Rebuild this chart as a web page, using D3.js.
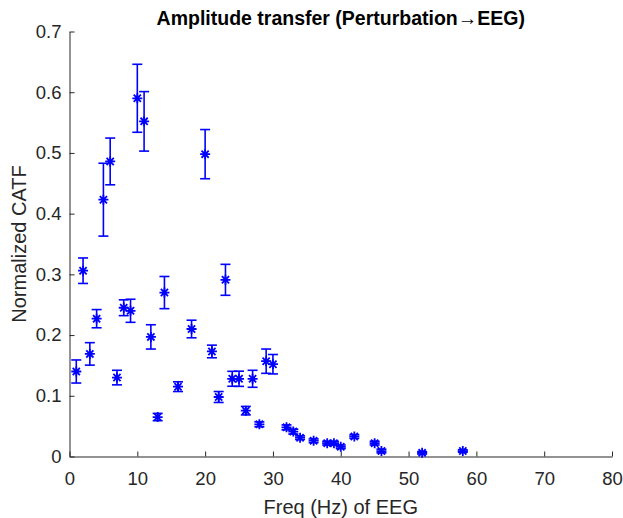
<!DOCTYPE html>
<html>
<head>
<meta charset="utf-8">
<script src="https://cdn.jsdelivr.net/npm/d3@7"></script>
<style>
  body { margin: 0; background: #fff; }
  svg text { font-family: "Liberation Sans", Arial, sans-serif; }
</style>
</head>
<body>
<div id="chart"></div>
<script>
// frequencies (Hz) of EEG
const freqs = [1, 2, 3, 4, 5, 6, 7, 8, 9, 10, 11, 12, 13, 14, 16, 18, 20, 21, 22, 23,
    24, 25, 26, 27, 28, 29, 30, 32, 33, 34, 36, 38, 39, 40, 42, 45, 46, 52, 58];
// normalized CATF (mean)
const catf = [0.140, 0.306, 0.169, 0.227, 0.423, 0.486, 0.130, 0.245, 0.240, 0.590,
    0.552, 0.197, 0.065, 0.270, 0.115, 0.210, 0.498, 0.173, 0.098, 0.291,
    0.128, 0.128, 0.0755, 0.128, 0.053, 0.157, 0.152, 0.048, 0.041, 0.031,
    0.026, 0.022, 0.022, 0.016, 0.033, 0.022, 0.009, 0.006, 0.009];
// error bar half lengths
const errs = [0.019, 0.021, 0.0185, 0.015, 0.060, 0.0385, 0.012, 0.013, 0.019, 0.056,
    0.049, 0.020, 0.006, 0.0265, 0.008, 0.0145, 0.0405, 0.0104, 0.009, 0.0255,
    0.0123, 0.0125, 0.007, 0.014, 0.004, 0.020, 0.016, 0.004, 0.004, 0.003,
    0.003, 0.003, 0.003, 0.003, 0.003, 0.003, 0.003, 0.002, 0.002];
const xTicks = [0, 10, 20, 30, 40, 50, 60, 70, 80];
const yTicks = [0, 0.1, 0.2, 0.3, 0.4, 0.5, 0.6, 0.7];

const data = freqs.map((f, i) => ({f: f, v: catf[i], e: errs[i]}));

// set the dimensions and margins of the graph
const margin = {top: 31.5, right: 11, bottom: 61.5, left: 69.5},
    width = 623 - margin.left - margin.right,
    height = 518 - margin.top - margin.bottom;

const axisColor = "#262626";
const blue = "#0000ff";

const svg = d3.select("#chart")
    .append("svg")
    .attr("width", 623)
    .attr("height", 518)
    .append("g")
    .attr("transform", `translate(${margin.left},${margin.top})`);

const x = d3.scaleLinear().domain([0, 80]).range([0, width]);
const y = d3.scaleLinear().domain([0, 0.7]).range([height, 0]);

// X axis (ticks inward)
const xAxis = svg.append("g")
    .attr("transform", `translate(0, ${height})`)
    .call(d3.axisBottom(x).tickValues(xTicks).tickSize(-5).tickPadding(15).tickSizeOuter(0));
xAxis.select(".domain").attr("stroke", axisColor).attr("stroke-width", 1);
xAxis.selectAll(".tick line").attr("stroke", axisColor);
xAxis.selectAll("text")
    .attr("fill", axisColor)
    .style("font-size", "18.5px");

// Y axis (ticks inward)
const yAxis = svg.append("g")
    .call(d3.axisLeft(y).tickValues(yTicks).tickSize(-5).tickPadding(8).tickSizeOuter(0)
        .tickFormat(d => d === 0 ? "0" : d3.format(".1f")(d)));
yAxis.select(".domain").attr("stroke", axisColor).attr("stroke-width", 1);
yAxis.selectAll(".tick line").attr("stroke", axisColor);
yAxis.selectAll("text")
    .attr("fill", axisColor)
    .style("font-size", "18.5px");

// error bars
const capW = 5;
const eb = svg.append("g")
    .attr("stroke", blue)
    .attr("stroke-width", 1.6)
    .attr("fill", "none");
eb.selectAll("line.stem")
    .data(data)
    .join("line")
    .attr("class", "stem")
    .attr("x1", d => x(d.f)).attr("x2", d => x(d.f))
    .attr("y1", d => y(d.v - d.e)).attr("y2", d => y(d.v + d.e));
eb.selectAll("line.capTop")
    .data(data)
    .join("line")
    .attr("class", "capTop")
    .attr("x1", d => x(d.f) - capW).attr("x2", d => x(d.f) + capW)
    .attr("y1", d => y(d.v + d.e)).attr("y2", d => y(d.v + d.e));
eb.selectAll("line.capBot")
    .data(data)
    .join("line")
    .attr("class", "capBot")
    .attr("x1", d => x(d.f) - capW).attr("x2", d => x(d.f) + capW)
    .attr("y1", d => y(d.v - d.e)).attr("y2", d => y(d.v - d.e));

// star markers (MATLAB '*': plus + cross)
const r = 5, a = r * 0.72;
const star = `M${-r},0L${r},0M0,${-r}L0,${r}M${-a},${-a}L${a},${a}M${-a},${a}L${a},${-a}`;
svg.append("g")
    .selectAll("path")
    .data(data)
    .join("path")
    .attr("d", star)
    .attr("transform", d => `translate(${x(d.f)},${y(d.v)})`)
    .attr("stroke", blue)
    .attr("stroke-width", 1.8)
    .attr("fill", "none");

// title
svg.append("text")
    .attr("x", width / 2)
    .attr("y", -6.5)
    .attr("text-anchor", "middle")
    .style("font-size", "19.5px")
    .style("font-weight", "bold")
    .attr("fill", "#000")
    .text("Amplitude transfer (Perturbation\u2192EEG)");

// x label
svg.append("text")
    .attr("x", width / 2)
    .attr("y", height + 57)
    .attr("text-anchor", "middle")
    .style("font-size", "20px")
    .attr("fill", axisColor)
    .text("Freq (Hz) of EEG");

// y label
svg.append("text")
    .attr("transform", `translate(${-43.5},${height / 2}) rotate(-90)`)
    .attr("text-anchor", "middle")
    .style("font-size", "20px")
    .attr("fill", axisColor)
    .text("Normalized CATF");
</script>
</body>
</html>
